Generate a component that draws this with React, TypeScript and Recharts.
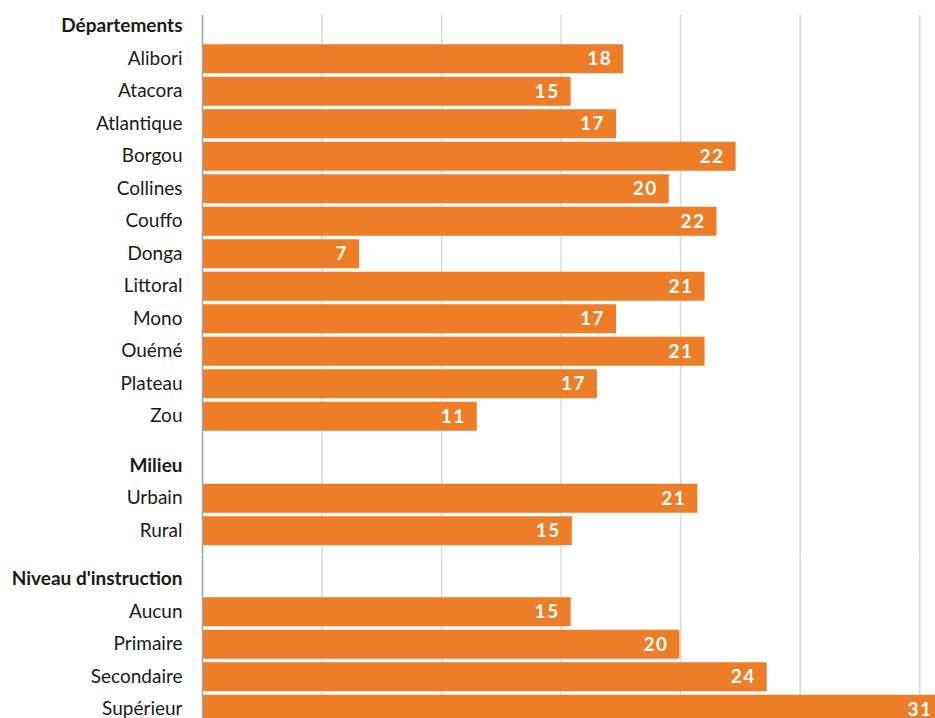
import React from 'react';
import { BarChart, Bar, XAxis, YAxis, CartesianGrid, LabelList } from 'recharts';

// Données (%)
const departements = ['Alibori', 'Atacora', 'Atlantique', 'Borgou', 'Collines', 'Couffo', 'Donga', 'Littoral', 'Mono', 'Ouémé', 'Plateau', 'Zou'];
const departementsValues = [17.6, 15.4, 17.3, 22.3, 19.5, 21.5, 6.55, 21.0, 17.3, 21.0, 16.5, 11.47];

const milieux = ['Urbain', 'Rural'];
const milieuxValues = [20.7, 15.45];

const niveaux = ['Aucun', 'Primaire', 'Secondaire', 'Supérieur'];
const niveauxValues = [15.4, 19.95, 23.6, 31];

const headers = ['Départements', 'Milieu', "Niveau d'instruction"];
const xTicks = [0, 5, 10, 15, 20, 25, 30];

const ORANGE = '#ED7D27';
const FONT = 'Lato, "Open Sans", sans-serif';

const CategoryTick = (props: any) => {
  const { x, y, payload } = props;
  const isHeader = headers.includes(payload.value);
  return (
    <text
      x={x - 20}
      y={y}
      dy={6}
      textAnchor="end"
      fontFamily={FONT}
      fontSize={19}
      fontWeight={isHeader ? 700 : 400}
      fill="#1a1a1a"
    >
      {payload.value}
    </text>
  );
};

interface GroupProps {
  header: string;
  names: string[];
  values: number[];
  top: number;
  height: number;
  marginTop: number;
  padTop: number;
  padBottom: number;
}

const GroupChart: React.FC<GroupProps> = ({ header, names, values, top, height, marginTop, padTop, padBottom }) => {
  const data = [
    { name: header, value: null as number | null },
    ...names.map((n, i) => ({ name: n, value: values[i] })),
  ];
  return (
    <div style={{ position: 'absolute', left: 0, top }}>
      <BarChart
        width={967.5}
        height={height}
        data={data}
        layout="vertical"
        margin={{ top: marginTop, right: 0, bottom: 0, left: 0 }}
        barCategoryGap={2}
      >
        <CartesianGrid vertical horizontal={false} stroke="#d9d9d9" strokeWidth={1.5} />
        <XAxis type="number" domain={[0, 32]} ticks={xTicks} hide allowDataOverflow />
        <YAxis
          type="category"
          dataKey="name"
          width={202.5}
          tickSize={0}
          tickMargin={0}
          tickLine={false}
          axisLine={{ stroke: '#a6a6a6', strokeWidth: 1.5 }}
          tick={<CategoryTick />}
          interval={0}
          padding={{ top: padTop, bottom: padBottom }}
        />
        <Bar dataKey="value" fill={ORANGE} isAnimationActive={false}>
          <LabelList
            dataKey="value"
            position="insideRight"
            offset={11}
            formatter={(v: any) => (v == null ? '' : String(Math.round(Number(v))))}
            fill="#ffffff"
            fontFamily={FONT}
            fontSize={19}
            fontWeight={700}
            letterSpacing={1.5}
          />
        </Bar>
      </BarChart>
    </div>
  );
};

export default function App() {
  return (
    <div style={{ position: 'absolute', left: 0, top: 0, width: 935, height: 718, overflow: 'hidden', background: '#fff' }}>
      <GroupChart header={headers[0]} names={departements} values={departementsValues} top={0} height={441} marginTop={15} padTop={-5.25} padBottom={8.75} />
      <GroupChart header={headers[1]} names={milieux} values={milieuxValues} top={441} height={113.5} marginTop={0} padTop={8.25} padBottom={7.75} />
      <GroupChart header={headers[2]} names={niveaux} values={niveauxValues} top={554.5} height={171} marginTop={0} padTop={7.75} padBottom={0.75} />
    </div>
  );
}
